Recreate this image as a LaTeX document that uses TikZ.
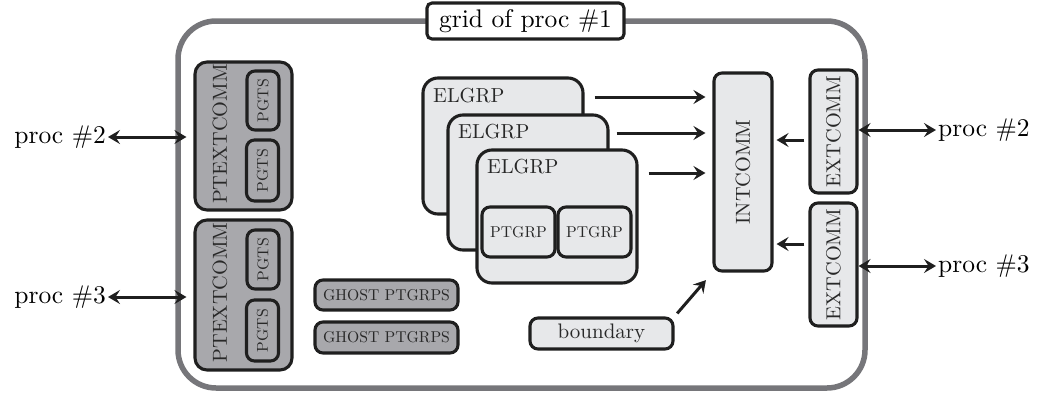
\documentclass[tikz,border=0pt]{standalone}
\usepackage{fontspec}
\setmainfont{lmroman10-regular.otf}
\usetikzlibrary{arrows.meta}
\definecolor{framegray}{RGB}{118,118,122}
\definecolor{darkfill}{RGB}{168,168,172}
\definecolor{lightfill}{RGB}{231,232,234}
\definecolor{boxtext}{RGB}{40,40,40}
\newcommand\fbig{\fontsize{20.3}{24}\selectfont}
\newcommand\fsml{\fontsize{15.7}{18}\selectfont}
\newcommand\fhg{\fontsize{25.5}{30}\selectfont}
\tikzset{
  basebox/.style={draw=black!88, line width=3.1pt, rounded corners=8pt, inner sep=2pt, text=boxtext},
  darkbox/.style={basebox, fill=darkfill, font=\fsml},
  lightbox/.style={basebox, fill=lightfill, font=\fbig},
  elbox/.style={basebox, fill=lightfill, rounded corners=15pt},
  arr/.style={line width=3pt, draw=black!88, -{Stealth[length=12pt,width=14pt,inset=4.5pt]}},
  dbl/.style={line width=3pt, draw=black!88, {Stealth[length=12pt,width=14pt,inset=4.5pt]}-{Stealth[length=12pt,width=14pt,inset=4.5pt]}},
  procl/.style={font=\fhg, inner sep=2pt},
  lbl/.style={font=\fbig, text=boxtext, inner sep=0pt}
}
\begin{document}
\begin{tikzpicture}[x=1pt,y=-1pt]
\useasboundingbox (0,0) rectangle (1037,397);
% outer frame
\draw[draw=framegray, line width=5.5pt, rounded corners=38pt] (178,21) rectangle (865,388);
\node[draw=black!88, line width=3.1pt, fill=white, rounded corners=5pt, font=\fhg, minimum width=197pt, minimum height=36pt, inner sep=0pt] (title) at (525.5,21) {grid of proc \#1};

% PTEXTCOMM groups
\node[darkbox, rounded corners=12pt, minimum width=97pt, minimum height=148pt] (pt1) at (243.5,136) {};
\node[lbl, rotate=90] (pt1l) at (220,134) {PTEXTCOMM};
\node[darkbox, minimum width=32pt, minimum height=59pt] (pg1) at (263,100.5) {\rotatebox{90}{PGTS}};
\node[darkbox, minimum width=32pt, minimum height=61pt] (pg2) at (262.5,170.5) {\rotatebox{90}{PGTS}};

\node[darkbox, rounded corners=12pt, minimum width=97pt, minimum height=150pt] (pt2) at (243.5,295) {};
\node[lbl, rotate=90] (pt2l) at (220,292.5) {PTEXTCOMM};
\node[darkbox, minimum width=32pt, minimum height=59pt] (pg3) at (263,259.5) {\rotatebox{90}{PGTS}};
\node[darkbox, minimum width=32pt, minimum height=61pt] (pg4) at (262.5,330.5) {\rotatebox{90}{PGTS}};

% left proc labels
\node[procl, anchor=east] (l2) at (108,137) {proc \#2};
\node[procl, anchor=east] (l3) at (108,297) {proc \#3};
\draw[dbl, shorten >=7pt] (l2.east) -- (l2.east -| pt1.west);
\draw[dbl, shorten >=7pt] (l3.east) -- (l3.east -| pt2.west);

% ghost ptgrps
\node[darkbox, minimum width=143pt, minimum height=30pt] (g1) at (386.5,295) {GHOST PTGRPS};
\node[darkbox, minimum width=143pt, minimum height=31pt] (g2) at (386.5,337.5) {GHOST PTGRPS};

% ELGRPs
\node[elbox, minimum width=160pt, minimum height=136pt] (el1) at (503,146) {};
\node[lbl, anchor=west] (el1l) at (433,96) {ELGRP};
\node[elbox, minimum width=160pt, minimum height=135pt] (el2) at (528,182.5) {};
\node[lbl, anchor=west] (el2l) at (458,132) {ELGRP};
\node[elbox, minimum width=160pt, minimum height=133pt] (el3) at (557,216.5) {};
\node[lbl, anchor=west] (el3l) at (487,167) {ELGRP};
\node[lightbox, font=\fsml, minimum width=73pt, minimum height=50pt] (pa) at (518.5,232) {PTGRP};
\node[lightbox, font=\fsml, minimum width=73pt, minimum height=50pt] (pb) at (594.5,232) {PTGRP};

% INTCOMM
\node[lightbox, minimum width=58pt, minimum height=198pt] (ic) at (743,172) {\rotatebox{90}{INTCOMM}};

% EXTCOMM
\node[lightbox, minimum width=47pt, minimum height=123pt] (e1) at (833.5,131.5) {\rotatebox{90}{EXTCOMM}};
\node[lightbox, minimum width=47pt, minimum height=123pt] (e2) at (833.5,264.5) {\rotatebox{90}{EXTCOMM}};

% boundary
\node[lightbox, font=\fontsize{21}{24}\selectfont, minimum width=143pt, minimum height=31pt] (bd) at (601.5,333.5) {boundary};

% arrows to INTCOMM
\draw[arr, shorten <=10pt, shorten >=7pt] (el1.east |- 0,97) -- (ic.west |- 0,97);
\draw[arr, shorten <=7pt, shorten >=7pt] (el2.east |- 0,133) -- (ic.west |- 0,133);
\draw[arr, shorten <=10pt, shorten >=7pt] (el3.east |- 0,173) -- (ic.west |- 0,173);
\draw[arr, shorten <=4pt, shorten >=3pt] (e1.west |- 0,140) -- (ic.east |- 0,140);
\draw[arr, shorten <=4pt, shorten >=3pt] (e2.west |- 0,244) -- (ic.east |- 0,244);
\draw[arr, shorten <=4pt, shorten >=10pt] (bd.north east) -- (ic.south west);

% right proc labels
\node[procl, anchor=west] (r2) at (936,130) {proc \#2};
\node[procl, anchor=west] (r3) at (936,266) {proc \#3};
\draw[dbl] (e1.east |- r2.west) -- (r2.west);
\draw[dbl] (e2.east |- r3.west) -- (r3.west);
\end{tikzpicture}
\end{document}
